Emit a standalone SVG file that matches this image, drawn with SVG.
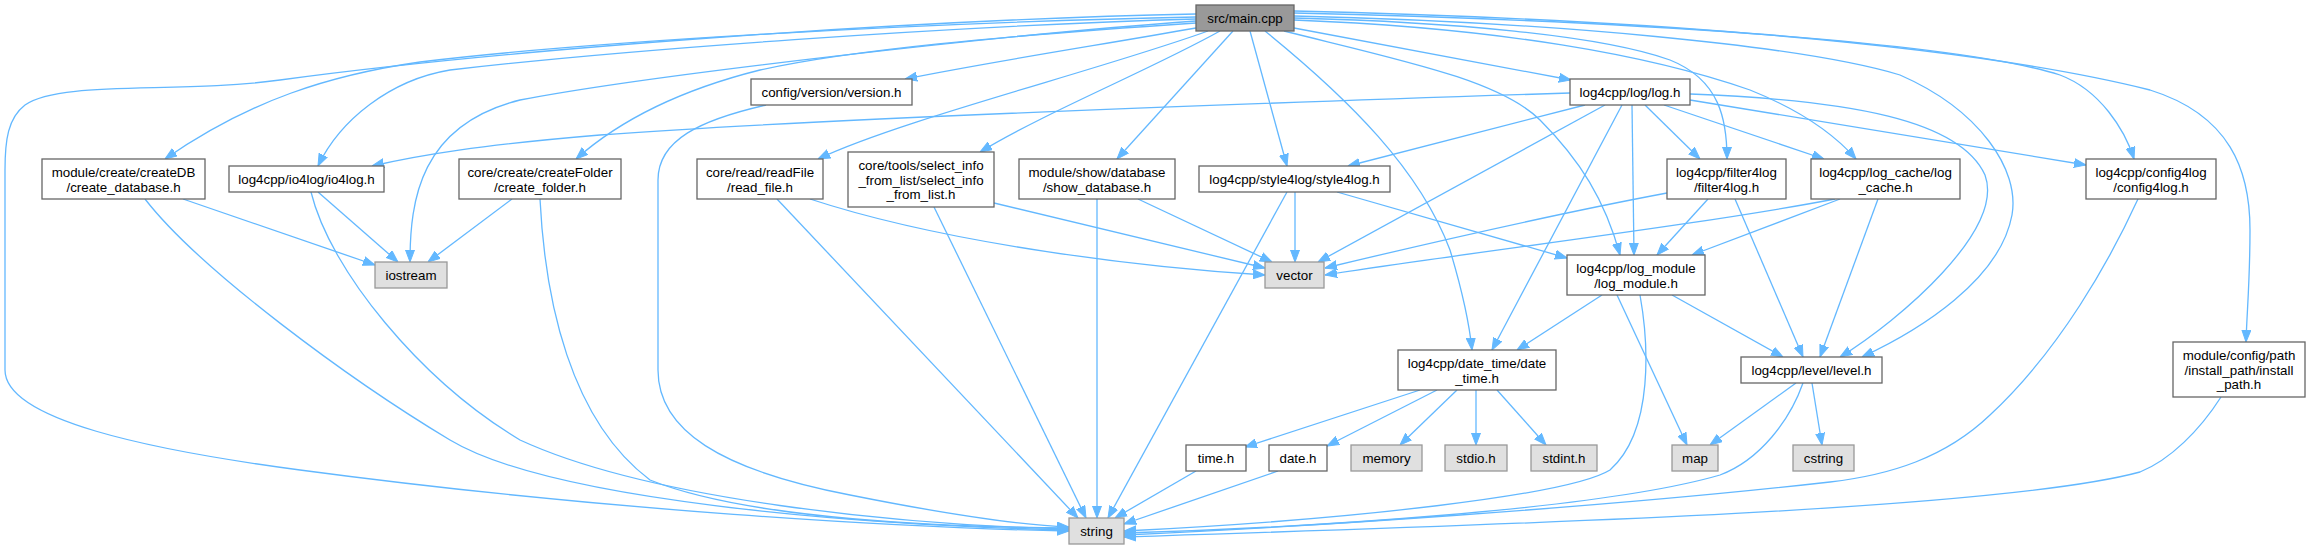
<svg xmlns="http://www.w3.org/2000/svg" width="2315" height="549" viewBox="0 0 2315 549">
<defs>
<marker id="arr" markerUnits="userSpaceOnUse" markerWidth="12" markerHeight="10" viewBox="0 0 12 10" refX="12" refY="5" orient="auto">
<path d="M0,0.5 L12,5 L0,9.5 z" fill="#63b8ff" stroke="#63b8ff" stroke-width="1"/>
</marker>
</defs>
<style>
.e{fill:none;stroke:#63b8ff;stroke-width:1.3;marker-end:url(#arr)}
.n rect{fill:#ffffff;stroke:#666666;stroke-width:1.3}
.s rect{fill:#e0e0e0;stroke:#999999;stroke-width:1.3}
.m rect{fill:#999999;stroke:#666666;stroke-width:1.3}
text{font-family:"Liberation Sans",Arial,Helvetica,sans-serif;font-size:13.33px;fill:#000000;text-anchor:middle}
</style>
<rect width="2315" height="549" fill="#ffffff"/>
<g id="edges">
<path class="e" d="M1196,14 C900,20 500,50 280,80 C180,94 60,80 25,105 C8,118 5,140 5,170 L5,370 C5,420 150,450 300,470 C600,510 900,528 1069,531"/>
<path class="e" d="M1196,17 C950,22 600,40 420,62 C330,75 250,100 165,159"/>
<path class="e" d="M1196,19 C950,26 620,50 450,70 C390,80 340,120 318,166"/>
<path class="e" d="M1196,21 C1000,35 650,75 520,100 C420,125 410,200 410,262"/>
<path class="e" d="M1196,23 C1000,36 850,50 760,70 C680,90 620,120 576,159"/>
<path class="e" d="M1196,28 C1100,45 1000,60 905,79"/>
<path class="e" d="M1208,31 C1100,70 900,120 818,159"/>
<path class="e" d="M1220,31 C1150,70 1050,110 980,152"/>
<path class="e" d="M1233,31 L1117,159"/>
<path class="e" d="M1250,31 L1287,166"/>
<path class="e" d="M1265,31 C1350,100 1420,170 1450,250 C1465,300 1470,330 1472,350"/>
<path class="e" d="M1294,28 L1571,80"/>
<path class="e" d="M1284,31 C1400,60 1500,80 1540,120 C1580,160 1605,200 1620,255"/>
<path class="e" d="M1294,18 C1450,22 1600,35 1670,60 C1720,80 1727,120 1727,159"/>
<path class="e" d="M1294,20 C1500,28 1650,55 1750,90 C1800,110 1835,135 1856,159"/>
<path class="e" d="M1294,16 C1550,22 1800,45 1900,75 C1980,110 2020,170 2012,215 C2000,280 1920,330 1862,357"/>
<path class="e" d="M1294,13 C1600,20 1950,40 2060,75 C2100,90 2125,130 2134,159"/>
<path class="e" d="M1294,11 C1600,18 1950,40 2150,90 C2230,115 2250,170 2250,230 C2250,280 2247,310 2246,342"/>
<path class="e" d="M1570,93 C1200,105 800,120 600,135 C480,145 420,155 372,166"/>
<path class="e" d="M1585,105 L1348,166"/>
<path class="e" d="M1605,105 L1318,262"/>
<path class="e" d="M1622,105 L1492,350"/>
<path class="e" d="M1632,105 L1634,255"/>
<path class="e" d="M1645,105 L1700,159"/>
<path class="e" d="M1664,105 L1824,159"/>
<path class="e" d="M1690,100 L2086,165"/>
<path class="e" d="M1690,94 C1850,100 1960,120 1985,175 C2005,230 1900,320 1840,357"/>
<path class="e" d="M1295,192 L1295,262"/>
<path class="e" d="M1287,192 L1108,518"/>
<path class="e" d="M1337,192 L1567,258"/>
<path class="e" d="M1667,193 C1550,215 1400,250 1325,268"/>
<path class="e" d="M1708,199 L1657,255"/>
<path class="e" d="M1735,199 L1803,357"/>
<path class="e" d="M1835,199 C1700,225 1450,255 1325,275"/>
<path class="e" d="M1840,199 L1692,255"/>
<path class="e" d="M1878,199 L1820,357"/>
<path class="e" d="M1602,295 L1517,350"/>
<path class="e" d="M1617,295 L1687,445"/>
<path class="e" d="M1672,295 L1783,357"/>
<path class="e" d="M1640,295 C1648,340 1655,430 1610,470 C1570,495 1350,520 1124,531"/>
<path class="e" d="M1420,390 L1245,447"/>
<path class="e" d="M1437,390 L1327,446"/>
<path class="e" d="M1457,390 L1400,445"/>
<path class="e" d="M1476,390 L1476,445"/>
<path class="e" d="M1497,390 L1546,445"/>
<path class="e" d="M1796,383 L1710,445"/>
<path class="e" d="M1812,383 L1822,445"/>
<path class="e" d="M1803,383 C1790,420 1760,460 1720,475 C1600,510 1300,528 1124,533"/>
<path class="e" d="M1196,471 L1115,518"/>
<path class="e" d="M1278,471 L1124,524"/>
<path class="e" d="M2138,199 C2110,260 2060,350 1990,415 C1945,458 1890,475 1830,482 C1600,508 1300,527 1124,535"/>
<path class="e" d="M2221,397 C2200,430 2170,460 2140,472 C2000,510 1500,525 1124,537"/>
<path class="e" d="M183,199 L375,265"/>
<path class="e" d="M145,199 C200,270 350,380 450,440 C550,500 850,525 1069,530"/>
<path class="e" d="M318,192 L398,262"/>
<path class="e" d="M311,192 C330,270 420,380 520,440 C650,500 900,525 1069,529"/>
<path class="e" d="M512,199 L428,262"/>
<path class="e" d="M540,199 C545,300 570,420 650,480 C750,520 950,527 1069,528"/>
<path class="e" d="M766,105 C700,120 658,140 658,180 L658,370 C658,430 720,470 850,495 C950,515 1020,525 1069,527"/>
<path class="e" d="M810,199 C950,245 1150,268 1265,275"/>
<path class="e" d="M777,199 L1078,518"/>
<path class="e" d="M994,203 L1265,268"/>
<path class="e" d="M934,207 L1086,518"/>
<path class="e" d="M1138,199 L1272,262"/>
<path class="e" d="M1097,199 L1097,518"/>
</g>
<g id="main" class="m"><rect x="1196" y="5" width="98" height="26"/><text x="1245" y="23">src/main.cpp</text></g>
<g id="string" class="s"><rect x="1069" y="518" width="55" height="26"/><text x="1096.5" y="536">string</text></g>
<g id="create_database" class="n"><rect x="42" y="159" width="163" height="40"/><text x="123.5" y="177">module/create/createDB</text><text x="123.5" y="191.7">/create_database.h</text></g>
<g id="io4log" class="n"><rect x="229" y="166" width="155" height="26"/><text x="306.5" y="184">log4cpp/io4log/io4log.h</text></g>
<g id="iostream" class="s"><rect x="375" y="262" width="72" height="26"/><text x="411" y="280">iostream</text></g>
<g id="create_folder" class="n"><rect x="459" y="159" width="162" height="40"/><text x="540" y="177">core/create/createFolder</text><text x="540" y="191.7">/create_folder.h</text></g>
<g id="read_file" class="n"><rect x="697" y="159" width="126" height="40"/><text x="760" y="177">core/read/readFile</text><text x="760" y="191.7">/read_file.h</text></g>
<g id="version" class="n"><rect x="751" y="79" width="161" height="26"/><text x="831.5" y="97">config/version/version.h</text></g>
<g id="select_info" class="n"><rect x="848" y="152" width="146" height="55"/><text x="921" y="170">core/tools/select_info</text><text x="921" y="184.7">_from_list/select_info</text><text x="921" y="199.3">_from_list.h</text></g>
<g id="show_database" class="n"><rect x="1019" y="159" width="156" height="40"/><text x="1097" y="177">module/show/database</text><text x="1097" y="191.7">/show_database.h</text></g>
<g id="style4log" class="n"><rect x="1199" y="166" width="191" height="26"/><text x="1294.5" y="184">log4cpp/style4log/style4log.h</text></g>
<g id="vector" class="s"><rect x="1265" y="262" width="59" height="26"/><text x="1294.5" y="280">vector</text></g>
<g id="log" class="n"><rect x="1570" y="79" width="120" height="26"/><text x="1630" y="97">log4cpp/log/log.h</text></g>
<g id="filter4log" class="n"><rect x="1667" y="159" width="119" height="40"/><text x="1726.5" y="177">log4cpp/filter4log</text><text x="1726.5" y="191.7">/filter4log.h</text></g>
<g id="log_cache" class="n"><rect x="1811" y="159" width="149" height="40"/><text x="1885.5" y="177">log4cpp/log_cache/log</text><text x="1885.5" y="191.7">_cache.h</text></g>
<g id="config4log" class="n"><rect x="2086" y="159" width="130" height="40"/><text x="2151" y="177">log4cpp/config4log</text><text x="2151" y="191.7">/config4log.h</text></g>
<g id="log_module" class="n"><rect x="1567" y="255" width="138" height="40"/><text x="1636" y="273">log4cpp/log_module</text><text x="1636" y="287.7">/log_module.h</text></g>
<g id="date_time" class="n"><rect x="1398" y="350" width="158" height="40"/><text x="1477" y="368">log4cpp/date_time/date</text><text x="1477" y="382.7">_time.h</text></g>
<g id="time_h" class="n"><rect x="1186" y="445" width="60" height="26"/><text x="1216" y="463">time.h</text></g>
<g id="date_h" class="n"><rect x="1269" y="445" width="58" height="26"/><text x="1298" y="463">date.h</text></g>
<g id="memory" class="s"><rect x="1351" y="445" width="71" height="26"/><text x="1386.5" y="463">memory</text></g>
<g id="stdio" class="s"><rect x="1445" y="445" width="62" height="26"/><text x="1476" y="463">stdio.h</text></g>
<g id="stdint" class="s"><rect x="1531" y="445" width="66" height="26"/><text x="1564" y="463">stdint.h</text></g>
<g id="map" class="s"><rect x="1672" y="445" width="46" height="26"/><text x="1695" y="463">map</text></g>
<g id="cstring" class="s"><rect x="1793" y="445" width="61" height="26"/><text x="1823.5" y="463">cstring</text></g>
<g id="level" class="n"><rect x="1741" y="357" width="141" height="26"/><text x="1811.5" y="375">log4cpp/level/level.h</text></g>
<g id="install_path" class="n"><rect x="2173" y="342" width="132" height="55"/><text x="2239" y="360">module/config/path</text><text x="2239" y="374.7">/install_path/install</text><text x="2239" y="389.3">_path.h</text></g>
</svg>
